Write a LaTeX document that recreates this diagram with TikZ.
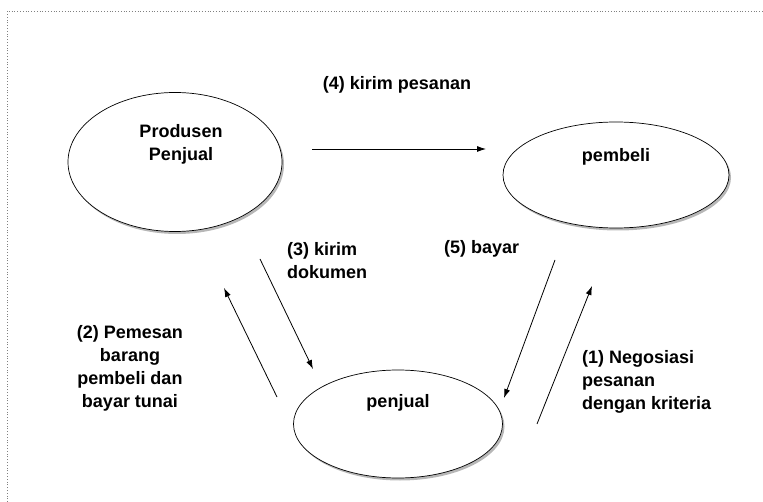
\documentclass[tikz,border=0pt]{standalone}
\usepackage{fontspec}
\setmainfont{Liberation Sans}
\usetikzlibrary{arrows.meta,shapes.geometric,shadows}

\begin{document}
\begin{tikzpicture}[x=1pt, y=-1pt,
    oval/.style={draw, ellipse, fill=white, inner sep=0pt, line width=0.7pt,
        drop shadow={shadow xshift=2pt, shadow yshift=-2.5pt, fill=gray!80, opacity=0.7}},
    txt/.style={font=\fontsize{18}{23}\selectfont\bfseries, inner sep=0pt},
    arr/.style={-{Latex[length=9pt,width=6pt]}, line width=0.8pt}
]
\useasboundingbox (0,0) rectangle (763,502);
\draw[gray, dotted, line width=0.8pt] (7,502) -- (7,11) -- (763,11);

% the three parties
\node[oval, minimum width=214, minimum height=139,
      label={[txt, align=center, xshift=6pt, yshift=18pt]center:Produsen\\Penjual}] (prod) at (175,162) {};
\node[oval, minimum width=226, minimum height=106,
      label={[txt, yshift=18pt]center:pembeli}] (pembeli) at (616,175) {};
\node[oval, minimum width=209, minimum height=108,
      label={[txt, yshift=21pt]center:penjual}] (penjual) at (398,424) {};

% loose arrow ends
\coordinate (a4s) at (312,149);  \coordinate (a4e) at (486,149);
\coordinate (a3s) at (260,259);  \coordinate (a3e) at (313,369);
\coordinate (a2s) at (277,397);  \coordinate (a2e) at (224,288);
\coordinate (a5s) at (555,260);  \coordinate (a5e) at (504,398);
\coordinate (a1s) at (537,424);  \coordinate (a1e) at (592,286);

\draw[arr] (a4s) -- (a4e);
\draw[arr] (a3s) -- (a3e);
\draw[arr] (a2s) -- (a2e);
\draw[arr] (a5s) -- (a5e);
\draw[arr] (a1s) -- (a1e);

% labels
\node[txt]                          (l4) at (397,85)  {(4) kirim pesanan};
\node[txt, align=left, anchor=west] (l3) at (287,261) {(3) kirim\\dokumen};
\node[txt, anchor=west]             (l5) at (444,249) {(5) bayar};
\node[txt, align=center]            (l2) at (130,368) {(2) Pemesan\\barang\\pembeli dan\\bayar tunai};
\node[txt, align=left, anchor=west] (l1) at (582,382) {(1) Negosiasi\\pesanan\\dengan kriteria};
\end{tikzpicture}
\end{document}
